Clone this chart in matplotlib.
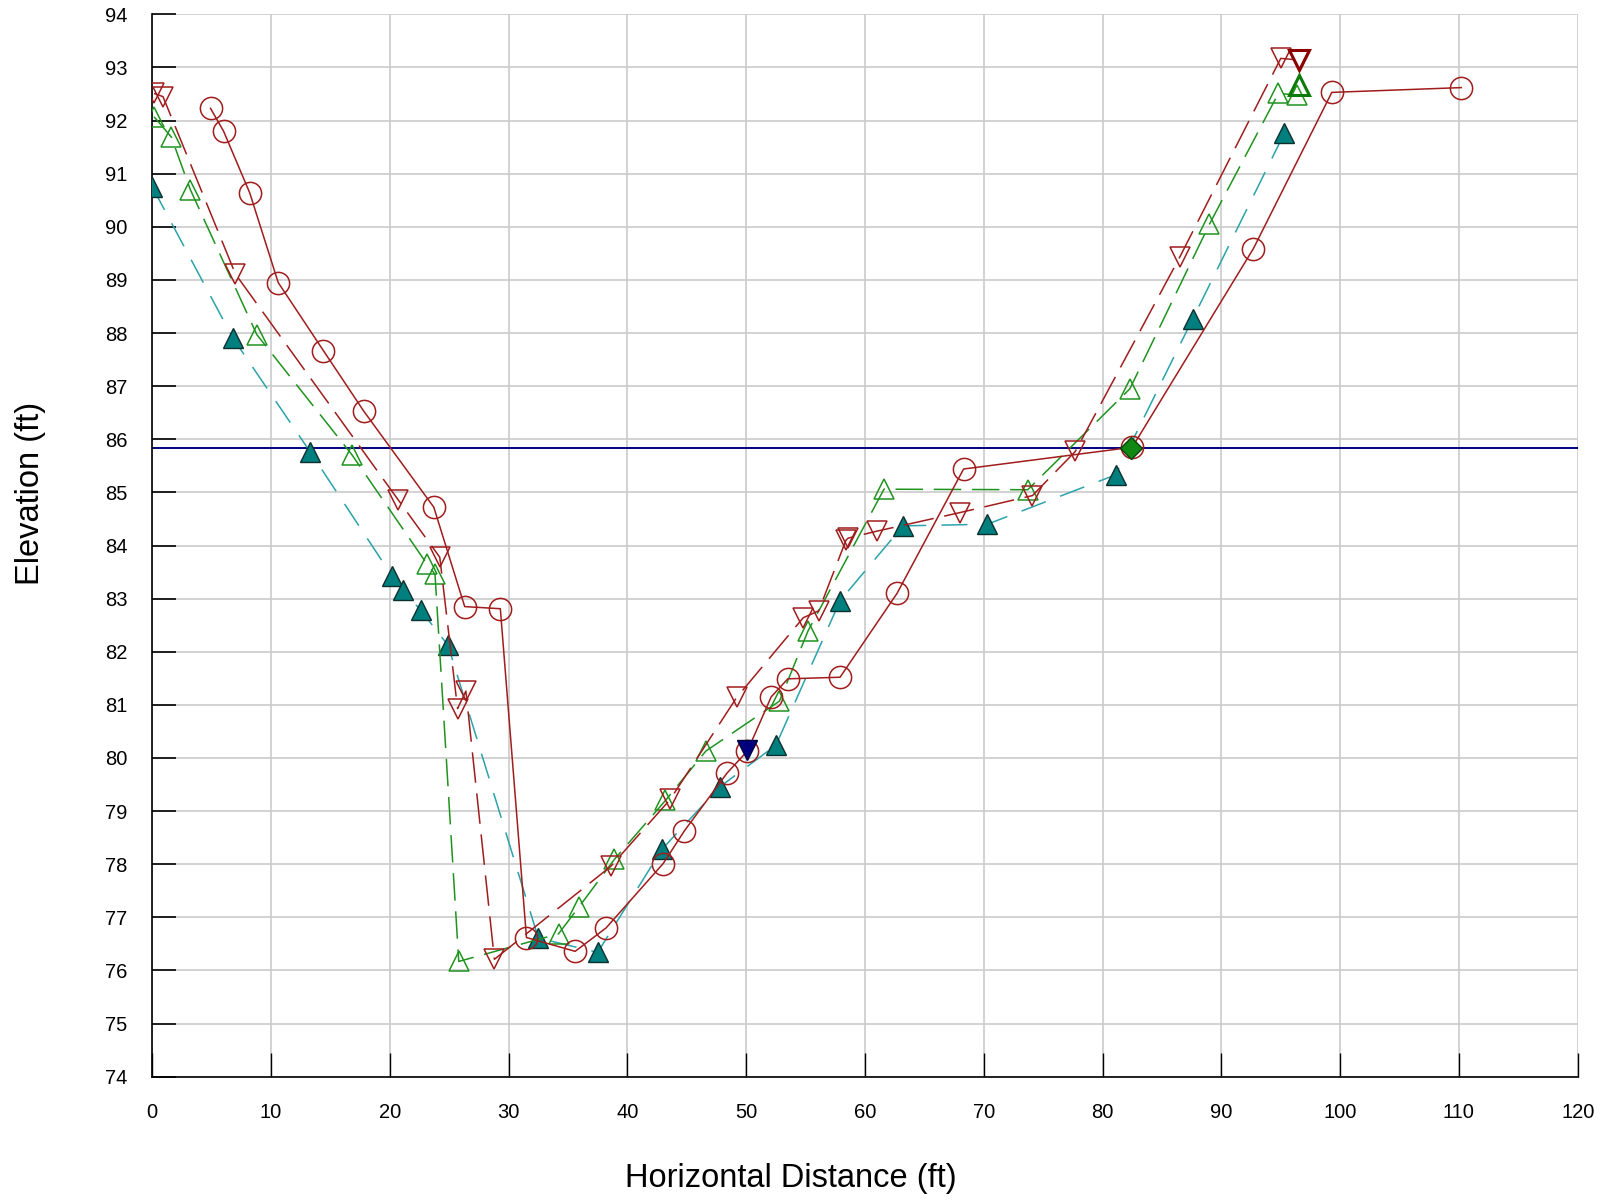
import matplotlib
matplotlib.use("Agg")
import matplotlib.pyplot as plt

plt.rcParams['font.family'] = ['Liberation Sans', 'DejaVu Sans']

# survey 1 - open circles, solid line
s1_x = [4.9, 6.0, 8.2, 10.6, 14.4, 17.8, 23.7, 26.3, 29.3, 31.5, 35.6, 38.2,
        43.0, 44.8, 48.4, 50.1, 52.1, 53.5, 57.9, 62.7, 68.3, 82.5, 92.7, 99.3, 110.2]
s1_y = [92.23, 91.80, 90.64, 88.95, 87.67, 86.53, 84.72, 82.85, 82.81, 76.62, 76.36, 76.80,
        78.01, 78.63, 79.72, 80.13, 81.15, 81.49, 81.52, 83.10, 85.44, 85.85, 89.59, 92.53, 92.62]

# survey 2 - open down triangles, long dash
s2_x = [0.15, 0.9, 7.0, 20.7, 24.2, 25.7, 26.4, 28.8, 38.6, 43.6, 49.2, 54.8,
        56.1, 58.4, 58.6, 61.0, 68.0, 74.1, 77.7, 86.5, 95.0, 96.5]
s2_y = [92.51, 92.45, 89.11, 84.86, 83.78, 80.93, 81.26, 76.21, 77.96, 79.22, 81.14, 82.64,
        82.77, 84.10, 84.14, 84.27, 84.62, 84.94, 85.77, 89.43, 93.17, 93.14]

# survey 3 - open up triangles, dashed
s3_x = [0.15, 1.6, 3.2, 8.8, 16.8, 23.1, 23.8, 25.8, 34.2, 35.9, 38.9, 43.2, 46.6,
        52.8, 55.2, 61.6, 73.7, 82.3, 89.0, 94.8, 96.4]
s3_y = [92.07, 91.69, 90.70, 87.97, 85.71, 83.66, 83.46, 76.17, 76.69, 77.19, 78.09, 79.20,
        80.13, 81.07, 82.39, 85.06, 85.05, 86.95, 90.05, 92.51, 92.48]

# survey 4 - filled teal triangles, dashed
s4_x = [0.0, 6.8, 13.3, 20.2, 21.1, 22.6, 24.9, 32.5, 37.5, 42.9, 47.8, 52.5,
        57.9, 63.2, 70.3, 81.1, 87.6, 95.3]
s4_y = [90.75, 87.90, 85.76, 83.42, 83.16, 82.78, 82.12, 76.61, 76.34, 78.28, 79.46, 80.24,
        82.96, 84.37, 84.40, 85.33, 88.27, 91.76]

water_elev = 85.83
thalweg_x, thalweg_y = [50.1], [80.15]
bank_x, bank_y = [82.4], [85.84]
end2_x, end2_y = [96.5], [93.14]
end3_x, end3_y = [96.5], [92.67]

red = '#A11C1C'
green = '#1F931F'
teal_line = '#2AA3AA'
teal = '#007F7F'
navy = '#00007F'

fig = plt.figure(figsize=(16.01, 12.02), dpi=100)
ax = fig.add_axes([152.3 / 1601, 1 - 1076.7 / 1202, 1425.4 / 1601, 1062.4 / 1202])

ax.plot(s4_x, s4_y, color=teal_line, lw=1.1, dashes=(17, 10), marker='^', ms=15,
        mfc=teal, mec='#0F2F2F', mew=1.0, zorder=3)
ax.plot(s3_x, s3_y, color=green, lw=1.1, dashes=(18, 7), marker='^', ms=15,
        mfc='none', mec=green, mew=1.1, zorder=4)
ax.plot(s2_x, s2_y, color=red, lw=1.1, dashes=(20, 7), marker='v', ms=15,
        mfc='none', mec=red, mew=1.1, zorder=5)
ax.plot(s1_x, s1_y, color=red, lw=1.1, marker='o', ms=16,
        mfc='none', mec=red, mew=1.1, zorder=6)

ax.axhline(water_elev, color=navy, lw=1.4, zorder=2)
ax.plot(thalweg_x, thalweg_y, ls='none', marker='v', ms=15, mfc=navy, mec='#000040', zorder=7)
ax.plot(bank_x, bank_y, ls='none', marker='D', ms=11, mfc='#118811', mec='#104010', zorder=7)
ax.plot(end2_x, end2_y, ls='none', marker='v', ms=15, mfc='none', mec='#8B0000', mew=2.2, zorder=7)
ax.plot(end3_x, end3_y, ls='none', marker='^', ms=15, mfc='none', mec='#0A7A0A', mew=2.2, zorder=7)

ax.set_xlim(0, 120)
ax.set_ylim(74, 94)
ax.set_xticks(range(0, 121, 10))
ax.set_yticks(range(74, 95))
ax.grid(True, color='#CBCBCB', lw=1.2)
ax.set_axisbelow(True)
ax.spines['top'].set_visible(False)
ax.spines['right'].set_visible(False)
ax.spines['left'].set_linewidth(1.2)
ax.spines['bottom'].set_linewidth(1.2)
ax.tick_params(axis='y', direction='in', length=17, width=1.2, pad=18, labelsize=14.5)
ax.tick_params(axis='x', direction='in', length=17, width=1.0, pad=19, labelsize=14.5)

fig.text(791 / 1601, 1 - 1179 / 1202, 'Horizontal Distance (ft)', ha='center', va='center', fontsize=23.5)
fig.text(30 / 1601, 1 - 493 / 1202, 'Elevation (ft)', ha='center', va='center', rotation=90, fontsize=23.5)

fig.savefig('out.png', dpi=100)
